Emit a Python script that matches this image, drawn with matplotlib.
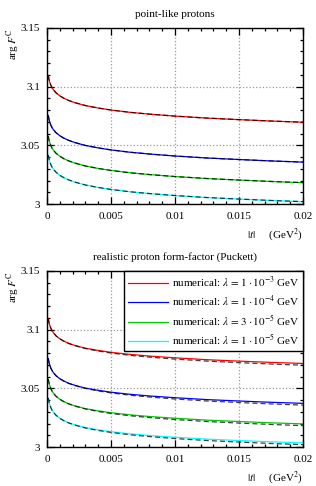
import matplotlib
matplotlib.use('Agg')
import matplotlib.pyplot as plt
from matplotlib.ticker import MultipleLocator, FormatStrFormatter

plt.rcParams['font.family'] = ['Liberation Serif', 'DejaVu Serif']
plt.rcParams['mathtext.fontset'] = 'stix'
plt.rcParams['font.size'] = 8

# |t| in GeV^2
t = [0.0001, 0.00015, 0.0002, 0.0003, 0.0004, 0.0005, 0.0007, 0.001, 0.0013,
     0.0017, 0.0022, 0.003, 0.004, 0.005, 0.0065, 0.008, 0.01, 0.0125, 0.015,
     0.0175, 0.02]

# point-like protons (numerical and approximation coincide)
red_pt = [3.1094, 3.1064, 3.1042, 3.1012, 3.0990, 3.0974, 3.0948, 3.0922, 3.0902,
          3.0882, 3.0863, 3.0839, 3.0818, 3.0801, 3.0781, 3.0766, 3.0749, 3.0732,
          3.0719, 3.0707, 3.0697]
blue_pt = [3.0754, 3.0724, 3.0702, 3.0672, 3.0650, 3.0634, 3.0608, 3.0582, 3.0562,
           3.0542, 3.0523, 3.0499, 3.0478, 3.0461, 3.0441, 3.0426, 3.0409, 3.0392,
           3.0379, 3.0367, 3.0357]
green_pt = [3.0579, 3.0549, 3.0527, 3.0497, 3.0475, 3.0459, 3.0433, 3.0407, 3.0387,
            3.0367, 3.0348, 3.0324, 3.0303, 3.0286, 3.0266, 3.0251, 3.0234, 3.0217,
            3.0204, 3.0192, 3.0182]
cyan_pt = [3.0417, 3.0387, 3.0365, 3.0335, 3.0313, 3.0297, 3.0271, 3.0245, 3.0225,
           3.0205, 3.0186, 3.0162, 3.0141, 3.0124, 3.0104, 3.0089, 3.0072, 3.0055,
           3.0042, 3.0030, 3.0020]

# realistic form-factor (Puckett), numerical
red_ff = [3.1094, 3.1064, 3.1042, 3.1012, 3.0990, 3.0974, 3.0948, 3.0922, 3.0903,
          3.0883, 3.0865, 3.0842, 3.0823, 3.0807, 3.0789, 3.0775, 3.0760, 3.0744,
          3.0732, 3.0721, 3.0712]
blue_ff = [3.0754, 3.0724, 3.0702, 3.0672, 3.0650, 3.0634, 3.0608, 3.0582, 3.0563,
           3.0543, 3.0525, 3.0502, 3.0483, 3.0467, 3.0449, 3.0435, 3.0420, 3.0404,
           3.0392, 3.0381, 3.0372]
green_ff = [3.0579, 3.0549, 3.0527, 3.0497, 3.0475, 3.0459, 3.0433, 3.0407, 3.0388,
            3.0368, 3.0350, 3.0327, 3.0308, 3.0292, 3.0274, 3.0260, 3.0245, 3.0229,
            3.0217, 3.0206, 3.0197]
cyan_ff = [3.0417, 3.0387, 3.0365, 3.0335, 3.0313, 3.0297, 3.0271, 3.0245, 3.0226,
           3.0206, 3.0188, 3.0165, 3.0146, 3.0130, 3.0112, 3.0098, 3.0083, 3.0067,
           3.0055, 3.0044, 3.0035]

colors = ['#ff0000', '#0000ff', '#00c800', '#00ffff']
labels = [r'numerical: $\lambda\,=\,1\cdot10^{-3}$ GeV',
          r'numerical: $\lambda\,=\,1\cdot10^{-4}$ GeV',
          r'numerical: $\lambda\,=\,3\cdot10^{-5}$ GeV',
          r'numerical: $\lambda\,=\,1\cdot10^{-5}$ GeV']

fig = plt.figure(figsize=(3.16, 4.86), dpi=100)
ax1 = fig.add_axes([47/316, 1-204/486, 256/316, 176/486])
ax2 = fig.add_axes([47/316, 1-447/486, 256/316, 176/486])


def style_axis(ax, title):
    ax.set_xlim(0, 0.02)
    ax.set_ylim(3.0, 3.15)
    ax.xaxis.set_major_locator(MultipleLocator(0.005))
    ax.xaxis.set_minor_locator(MultipleLocator(0.001))
    ax.yaxis.set_major_locator(MultipleLocator(0.05))
    ax.yaxis.set_minor_locator(MultipleLocator(0.01))
    ax.xaxis.set_major_formatter(FormatStrFormatter('%g'))
    ax.yaxis.set_major_formatter(FormatStrFormatter('%g'))
    ax.tick_params(which='both', direction='in', top=True, right=True, width=0.9)
    ax.tick_params(which='major', length=5, labelsize=8)
    ax.tick_params(axis='x', which='major', pad=6)
    ax.tick_params(axis='y', which='major', pad=5)
    ax.tick_params(which='minor', length=2.5)
    ax.grid(True, which='major', linestyle=':', color='#999999', linewidth=0.9)
    for s in ax.spines.values():
        s.set_linewidth(1.0)
    ax.set_title(title, fontsize=8, pad=8)
    ax.text(1.0, -0.175, r'$|t|$     (GeV$^2$)', transform=ax.transAxes,
            ha='right', va='center', fontsize=8)
    ax.text(-0.13, 1.0, r'arg $F^{\mathrm{C}}$', transform=ax.transAxes,
            rotation=90, ha='center', va='top', fontsize=8)


pt_series = [red_pt, blue_pt, green_pt, cyan_pt]
ff_series = [red_ff, blue_ff, green_ff, cyan_ff]
dash = (0, (4, 2.5))

for ys, c in zip(pt_series, colors):
    ax1.plot(t, ys, color=c, lw=0.9)
    ax1.plot(t, ys, color='black', lw=0.9, ls=dash, alpha=0.75)
style_axis(ax1, 'point-like protons')

handles = []
for ys, approx, c, lab in zip(ff_series, pt_series, colors, labels):
    h, = ax2.plot(t, ys, color=c, lw=0.9, label=lab)
    ax2.plot(t, approx, color='black', lw=0.9, ls=dash, alpha=0.75)
    handles.append(h)
style_axis(ax2, 'realistic proton form-factor (Puckett)')

leg = ax2.legend(handles=handles, loc='upper right', bbox_to_anchor=(1.0, 1.0),
                 borderaxespad=0, fancybox=False, framealpha=1, edgecolor='black',
                 fontsize=8, handlelength=3.6, handletextpad=0.35,
                 labelspacing=0.38, borderpad=0.35)
leg.get_frame().set_linewidth(1.0)

fig.savefig('out.png', dpi=100)
